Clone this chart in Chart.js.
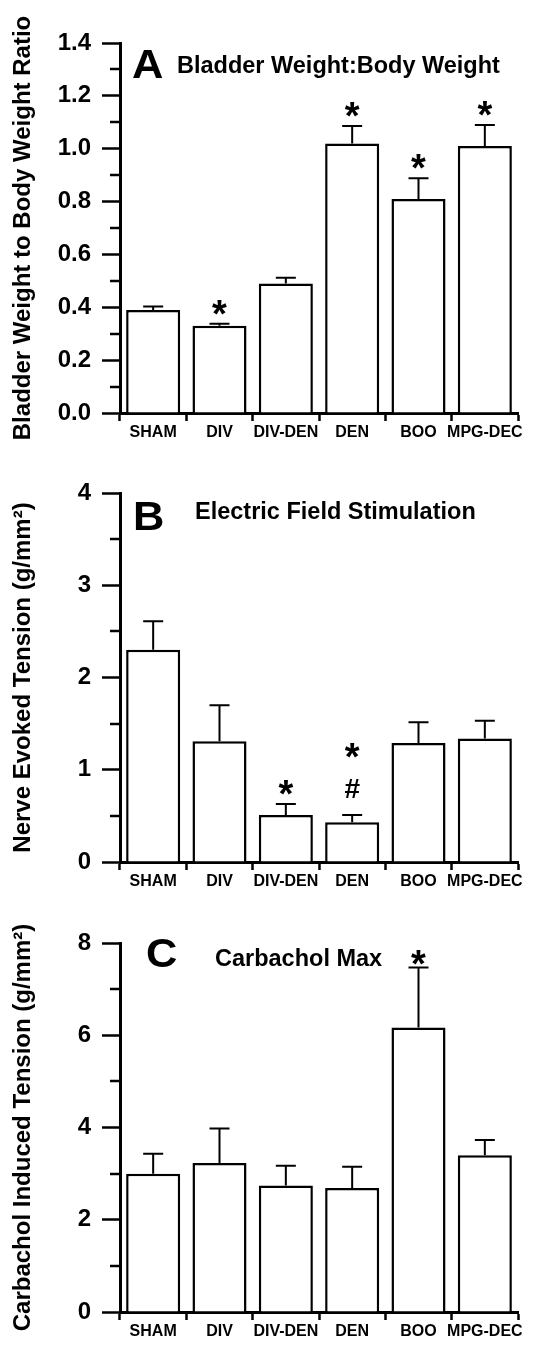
<!DOCTYPE html>
<html>
<head>
<meta charset="utf-8">
<script src="https://cdn.jsdelivr.net/npm/chart.js@4.4.1/dist/chart.umd.min.js"></script>
<style>
  body { margin: 0; background: #fff; }
  .panel { position: absolute; left: 0; width: 540px; }
</style>
</head>
<body>
<div class="panel" style="top:0"><canvas id="chartA" width="540" height="450"></canvas></div>
<div class="panel" style="top:450px"><canvas id="chartB" width="540" height="450"></canvas></div>
<div class="panel" style="top:900px"><canvas id="chartC" width="540" height="453"></canvas></div>
<script>
const categories = ['SHAM', 'DIV', 'DIV-DEN', 'DEN', 'BOO', 'MPG-DEC'];

// A - bladder weight : body weight
const ratioMeans = [0.39, 0.33, 0.49, 1.02, 0.81, 1.01];
const ratioSem = [0.013, 0.008, 0.022, 0.066, 0.078, 0.08];
const ratioMarks = [[], ['*'], [], ['*'], ['*'], ['*']];
const ratioTicks = [0, 0.2, 0.4, 0.6, 0.8, 1.0, 1.2, 1.4];

// B - electric field stimulation
const efsMeans = [2.30, 1.31, 0.51, 0.43, 1.29, 1.34];
const efsSem = [0.31, 0.39, 0.12, 0.08, 0.225, 0.19];
const efsMarks = [[], [], ['*'], ['#', '*'], [], []];
const efsTicks = [0, 1, 2, 3, 4];

// C - carbachol max
const cchMeans = [3.00, 3.23, 2.74, 2.69, 6.17, 3.40];
const cchSem = [0.43, 0.75, 0.43, 0.46, 1.30, 0.33];
const cchMarks = [[], [], [], [], ['*'], []];
const cchTicks = [0, 2, 4, 6, 8];

const FONT = "'Liberation Sans', Arial, sans-serif";

// error bars, minor ticks, significance marks and panel headings
const panelPlugin = {
  id: 'panelDecor',
  afterDraw(chart, args, opts) {
    const ctx = chart.ctx;
    const y = chart.scales.y;
    const meta = chart.getDatasetMeta(0);
    const area = chart.chartArea;
    ctx.save();
    ctx.strokeStyle = '#000';
    ctx.fillStyle = '#000';

    // minor ticks halfway between major ones
    ctx.lineWidth = 2.5;
    for (let i = 0; i < opts.ticks.length - 1; i++) {
      const py = Math.round(y.getPixelForValue((opts.ticks[i] + opts.ticks[i + 1]) / 2));
      ctx.beginPath();
      ctx.moveTo(area.left - 10, py);
      ctx.lineTo(area.left, py);
      ctx.stroke();
    }

    // error bars (upper only)
    ctx.lineWidth = 2;
    meta.data.forEach((bar, i) => {
      const top = y.getPixelForValue(opts.means[i] + opts.sem[i]);
      const base = y.getPixelForValue(opts.means[i]);
      ctx.beginPath();
      ctx.moveTo(bar.x, base);
      ctx.lineTo(bar.x, top);
      ctx.moveTo(bar.x - 10, top);
      ctx.lineTo(bar.x + 10, top);
      ctx.stroke();

      // marks stacked upward from the error cap
      let cursor = top + opts.markGap;
      ctx.textAlign = 'center';
      ctx.textBaseline = 'alphabetic';
      opts.marks[i].forEach(m => {
        if (m === '#') {
          ctx.font = 'bold 28px ' + FONT;
          const b = cursor - 17;
          ctx.fillText(m, bar.x, b);
          cursor = b - 31;
        } else {
          ctx.font = 'bold 38px ' + FONT;
          ctx.fillText(m, bar.x, cursor + 3);
          cursor -= 34;
        }
      });
    });

    // panel letter and heading
    ctx.textAlign = 'left';
    ctx.save();
    ctx.translate(opts.letterX, opts.letterY);
    ctx.scale(1.06, 1);
    ctx.font = 'bold 41px ' + FONT;
    ctx.fillText(opts.letter, 0, 0);
    ctx.restore();
    ctx.font = 'bold 23.5px ' + FONT;
    ctx.fillText(opts.heading, opts.headingX, opts.headingY);
    ctx.restore();
  }
};

function makePanel(id, cfg) {
  return new Chart(document.getElementById(id), {
    type: 'bar',
    data: {
      labels: categories,
      datasets: [{
        data: cfg.means,
        backgroundColor: '#fff',
        borderColor: '#000',
        borderWidth: 2.5,
        barPercentage: 0.815,
        categoryPercentage: 1
      }]
    },
    options: {
      responsive: false,
      animation: false,
      layout: { padding: { top: 43, right: 22, bottom: 0, left: 0 } },
      plugins: {
        legend: { display: false },
        tooltip: { enabled: false },
        panelDecor: cfg
      },
      scales: {
        x: {
          grid: { offset: true, drawOnChartArea: false, tickLength: 8, tickWidth: 2.5, tickColor: '#000' },
          border: { color: '#000', width: 3 },
          ticks: { color: '#000', padding: 2, maxRotation: 0, autoSkip: false,
                   font: { family: FONT, weight: 'bold', size: 16 } },
          afterFit: s => { s.height = cfg.xHeight; }
        },
        y: {
          min: 0,
          max: cfg.ticks[cfg.ticks.length - 1],
          afterBuildTicks: s => { s.ticks = cfg.ticks.map(v => ({ value: v })); },
          grid: { drawOnChartArea: false, tickLength: 18, tickWidth: 2.5, tickColor: '#000' },
          border: { color: '#000', width: 3 },
          ticks: { color: '#000', padding: 11,
                   font: { family: FONT, weight: 'bold', size: 24 },
                   callback: v => v.toFixed(cfg.decimals) },
          title: { display: true, text: cfg.yTitle, color: '#000', padding: { top: 9, bottom: 0 },
                   font: { family: FONT, weight: 'bold', size: 24 } },
          afterFit: s => { s.width = 120; }
        }
      }
    },
    plugins: [panelPlugin]
  });
}

makePanel('chartA', {
  means: ratioMeans, sem: ratioSem, marks: ratioMarks, ticks: ratioTicks, decimals: 1,
  yTitle: 'Bladder Weight to Body Weight Ratio', xHeight: 37, markGap: 0,
  letter: 'A', letterX: 132, letterY: 78, heading: 'Bladder Weight:Body Weight', headingX: 177, headingY: 73
});
makePanel('chartB', {
  means: efsMeans, sem: efsSem, marks: efsMarks, ticks: efsTicks, decimals: 0,
  yTitle: 'Nerve Evoked Tension (g/mm²)', xHeight: 38, markGap: 0,
  letter: 'B', letterX: 133, letterY: 80, heading: 'Electric Field Stimulation', headingX: 195, headingY: 69
});
makePanel('chartC', {
  means: cchMeans, sem: cchSem, marks: cchMarks, ticks: cchTicks, decimals: 0,
  yTitle: 'Carbachol Induced Tension (g/mm²)', xHeight: 41, markGap: 7,
  letter: 'C', letterX: 146, letterY: 67, heading: 'Carbachol Max', headingX: 215, headingY: 66
});
</script>
</body>
</html>
